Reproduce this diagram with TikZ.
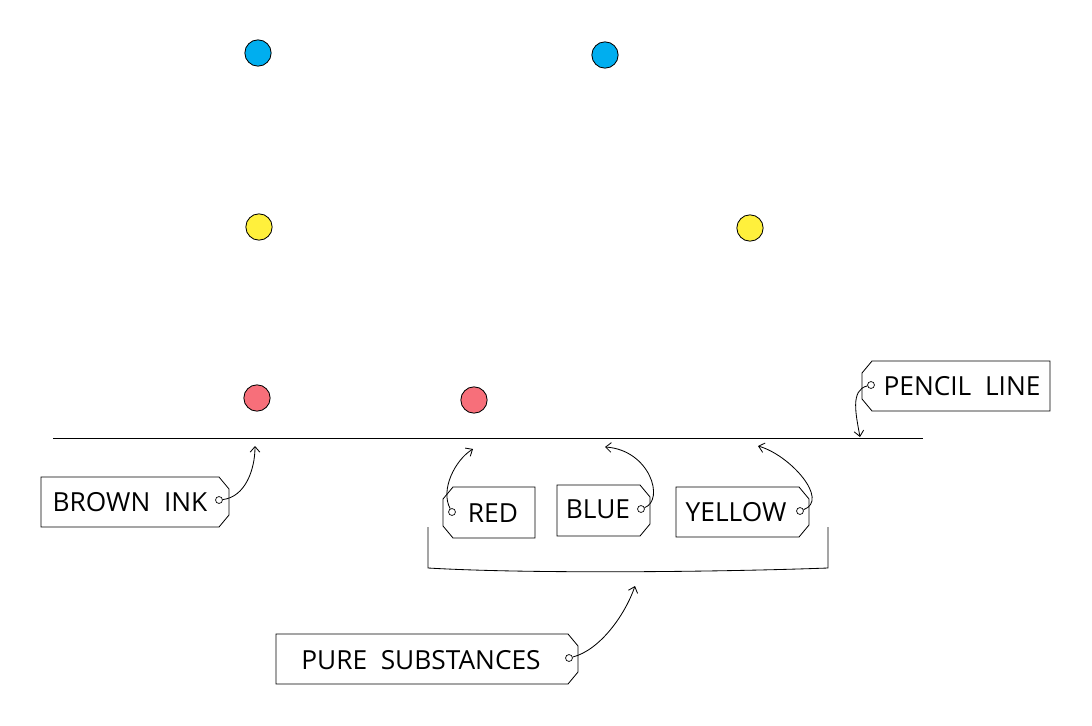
\documentclass[tikz,border=0pt]{standalone}
\usepackage{fontspec}
\setsansfont{Open Sans}
\usetikzlibrary{arrows.meta,calc,positioning}
\tikzset{
  spot/.style={circle, draw=black, line width=0.6pt, minimum size=19pt, inner sep=0pt},
  label text/.style={font=\sffamily\fontsize{19}{21}\selectfont, inner sep=0pt},
  hole/.style={circle, draw=black, line width=0.5pt, minimum size=5pt, inner sep=0pt},
  pointer/.style={line width=0.6pt, -{Straight Barb[length=4pt,width=7pt]}}
}
% tag cut on the right: x1 y1 x2 y2
\newcommand{\tagright}[4]{\draw[line width=0.6pt] (#1,#2) -- (#3-10,#2) -- (#3,#2+12) -- (#3,#4-12) -- (#3-10,#4) -- (#1,#4) -- cycle;}
\newcommand{\tagleft}[4]{\draw[line width=0.6pt] (#1+10,#2) -- (#3,#2) -- (#3,#4) -- (#1+10,#4) -- (#1,#4-12) -- (#1,#2+12) -- cycle;}
\begin{document}
\begin{tikzpicture}[x=0.0254cm, y=-0.0254cm]
  \useasboundingbox (0,0) rectangle (1092,726);
  % spots
  \node[spot, fill={rgb,255:red,0;green,174;blue,239}] (b1) at (258,53) {};
  \node[spot, fill={rgb,255:red,0;green,174;blue,239}] (b2) at (605,55) {};
  \node[spot, fill={rgb,255:red,255;green,240;blue,60}] (y1) at (259,227) {};
  \node[spot, fill={rgb,255:red,255;green,240;blue,60}] (y2) at (750,228) {};
  \node[spot, fill={rgb,255:red,247;green,111;blue,122}] (r1) at (257,398) {};
  \node[spot, fill={rgb,255:red,247;green,111;blue,122}] (r2) at (474,400) {};
  % pencil line
  \coordinate (pl) at (53,438);
  \coordinate (pr) at (923,438);
  \draw[line width=0.6pt] (pl) -- (pr);
  % tags
  \tagright{41}{477}{229}{527}
  \node[label text] (brown) at (130,502) {BROWN\ \ INK};
  \node[hole] (hbrown) at (219,500) {};
  \tagleft{862}{361}{1050}{411}
  \node[label text] (pencil) at (962,386) {PENCIL\ \ LINE};
  \node[hole] (hpencil) at (871,385) {};
  \tagleft{443}{487}{535}{538}
  \node[label text] (red) at (493,513) {RED};
  \node[hole] (hred) at (452,512) {};
  \tagright{557}{485}{650}{536}
  \node[label text] (blue) at (598,509) {BLUE};
  \node[hole] (hblue) at (641,509) {};
  \tagright{676}{487}{809}{537}
  \node[label text] (yellow) at (736,512) {YELLOW};
  \node[hole] (hyellow) at (800,511) {};
  \tagright{276}{634}{578}{684}
  \node[label text] (pure) at (421,660) {PURE\ \ SUBSTANCES};
  \node[hole] (hpure) at (569,658) {};
  % bracket
  \draw[line width=0.6pt] (428,527) -- (428,568) .. controls (530,574) and (720,572) .. (828,568) -- (828,527);
  % pointers
  \coordinate (tbrown) at (255,446);
  \coordinate (tpencil) at (860,437);
  \coordinate (tred) at (473,449);
  \coordinate (tblue) at (605,447);
  \coordinate (tyellow) at (758,446);
  \coordinate (tpure) at (635,586);
  \draw[pointer] (hbrown) .. controls (245,497) and (255,470) .. (tbrown);
  \draw[pointer] (hpencil) .. controls (850,390) and (856,415) .. (tpencil);
  \draw[pointer] (hred) .. controls (440,490) and (455,460) .. (tred);
  \draw[pointer] (hblue) .. controls (665,500) and (650,450) .. (tblue);
  \draw[pointer] (hyellow) .. controls (830,500) and (790,455) .. (tyellow);
  \draw[pointer] (hpure) .. controls (600,650) and (625,615) .. (tpure);
\end{tikzpicture}
\end{document}
